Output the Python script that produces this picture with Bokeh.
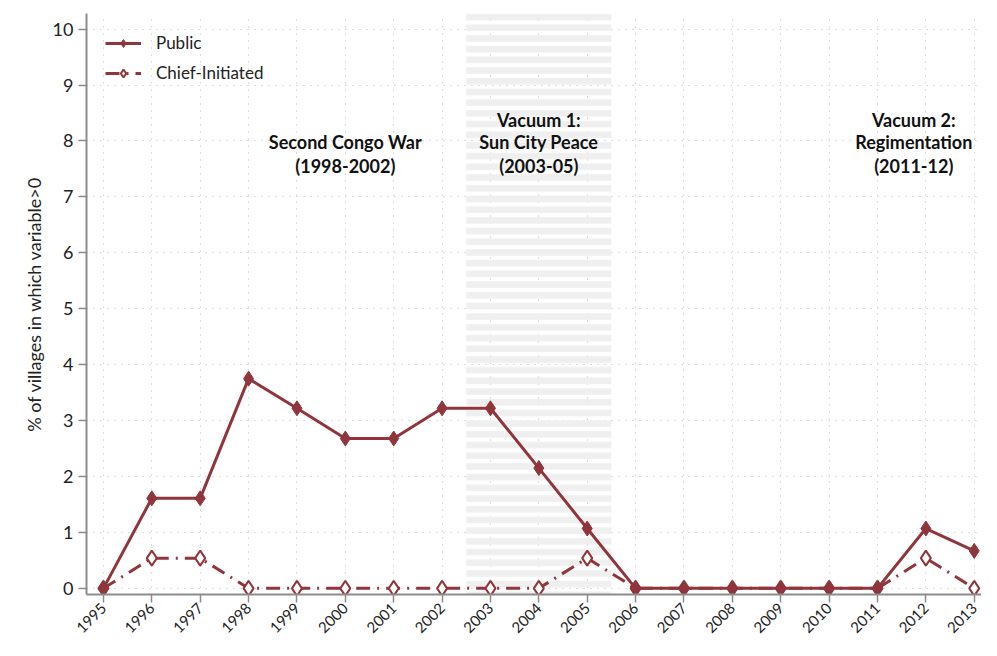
import math
from bokeh.plotting import figure
from bokeh.models import BoxAnnotation, Label, FixedTicker, ColumnDataSource
from bokeh.embed import file_html
from bokeh.resources import INLINE

years = list(range(1995, 2014))
public = [0, 1.61, 1.61, 3.75, 3.22, 2.68, 2.68, 3.22, 3.22, 2.15, 1.07,
          0, 0, 0, 0, 0, 0, 1.07, 0.67]
chief = [0, 0.54, 0.54, 0, 0, 0, 0, 0, 0, 0, 0.54,
         0, 0, 0, 0, 0, 0, 0.54, 0]
y_ticks = list(range(0, 11))
shade_start, shade_end = 2002.5, 2005.5

ann_x = [2000.0, 2004.0, 2011.75]
ann_lines = [["Second Congo War", "(1998-2002)"],
             ["Vacuum 1:", "Sun City Peace", "(2003-05)"],
             ["Vacuum 2:", "Regimentation", "(2011-12)"]]
ann_y = [8.37, 7.98, 7.56]

COLOR = "#90353b"
FONT = "Lato"

p = figure(width=981, height=640, output_backend="svg", toolbar_location=None,
           x_range=(1994.65, 2013.15), y_range=(-0.11, 10.28),
           min_border_left=86, min_border_top=13, min_border_right=0,
           min_border_bottom=0)
p.outline_line_color = None
p.background_fill_color = "white"

shade = BoxAnnotation(left=shade_start, right=shade_end, fill_alpha=0,
                      line_alpha=0, hatch_pattern="horizontal_line",
                      hatch_color="#efefef", hatch_weight=6.5, hatch_scale=10.7,
                      level="underlay")
p.add_layout(shade)

src = ColumnDataSource(dict(x=years, pub=public, chief=chief))
p.line("x", "chief", source=src, color=COLOR, line_width=3,
       line_dash="14 7 2 7", legend_label="Chief-Initiated")
p.scatter("x", "chief", source=src, marker="diamond", size=15,
          line_color=COLOR, fill_color="white", line_width=2,
          legend_label="Chief-Initiated")
p.line("x", "pub", source=src, color=COLOR, line_width=3,
       legend_label="Public")
p.scatter("x", "pub", source=src, marker="diamond", size=15,
          line_color=COLOR, fill_color=COLOR, legend_label="Public")

items = p.legend[0].items
p.legend[0].items = [items[1], items[0]]
leg = p.legend[0]
leg.location = "top_left"
leg.border_line_color = None
leg.background_fill_alpha = 0
leg.label_text_font = FONT
leg.label_text_font_size = "17px"
leg.label_text_color = "#222222"
leg.glyph_width = 36
leg.glyph_height = 20
leg.label_height = 20
leg.label_standoff = 15
leg.spacing = 9
leg.margin = 19
leg.padding = 6

for xs, lines in zip(ann_x, ann_lines):
    ys = ann_y[3 - len(lines):]
    for txt, yy in zip(lines, ys):
        p.add_layout(Label(x=xs, y=yy, text=txt, text_align="center",
                           text_baseline="middle", text_font=FONT,
                           text_font_style="bold", text_font_size="18px",
                           text_color="#111111"))

p.xaxis.ticker = FixedTicker(ticks=years)
p.yaxis.ticker = FixedTicker(ticks=y_ticks)
p.xaxis.major_label_orientation = math.pi / 4
for ax in (p.xaxis, p.yaxis):
    ax.axis_line_color = "#8c8c8c"
    ax.axis_line_width = 2
    ax.major_tick_line_color = "#8c8c8c"
    ax.major_tick_line_width = 1.5
    ax.major_tick_out = 8
    ax.major_tick_in = 0
    ax.minor_tick_line_color = None
    ax.major_label_text_font = FONT
    ax.major_label_text_color = "#222222"
p.xaxis.major_label_standoff = 3
p.xaxis.major_label_text_font_size = "15px"
p.yaxis.major_label_text_font_size = "18px"
p.yaxis.axis_label = "% of villages in which variable>0"
p.yaxis.axis_label_text_font = FONT
p.yaxis.axis_label_text_font_size = "18px"
p.yaxis.axis_label_text_font_style = "normal"
p.yaxis.axis_label_text_color = "#222222"

p.grid.grid_line_color = "#bdbdbd"
p.grid.grid_line_dash = "1 6"
p.grid.grid_line_width = 1

open("out.html", "w").write(file_html(p, INLINE))
